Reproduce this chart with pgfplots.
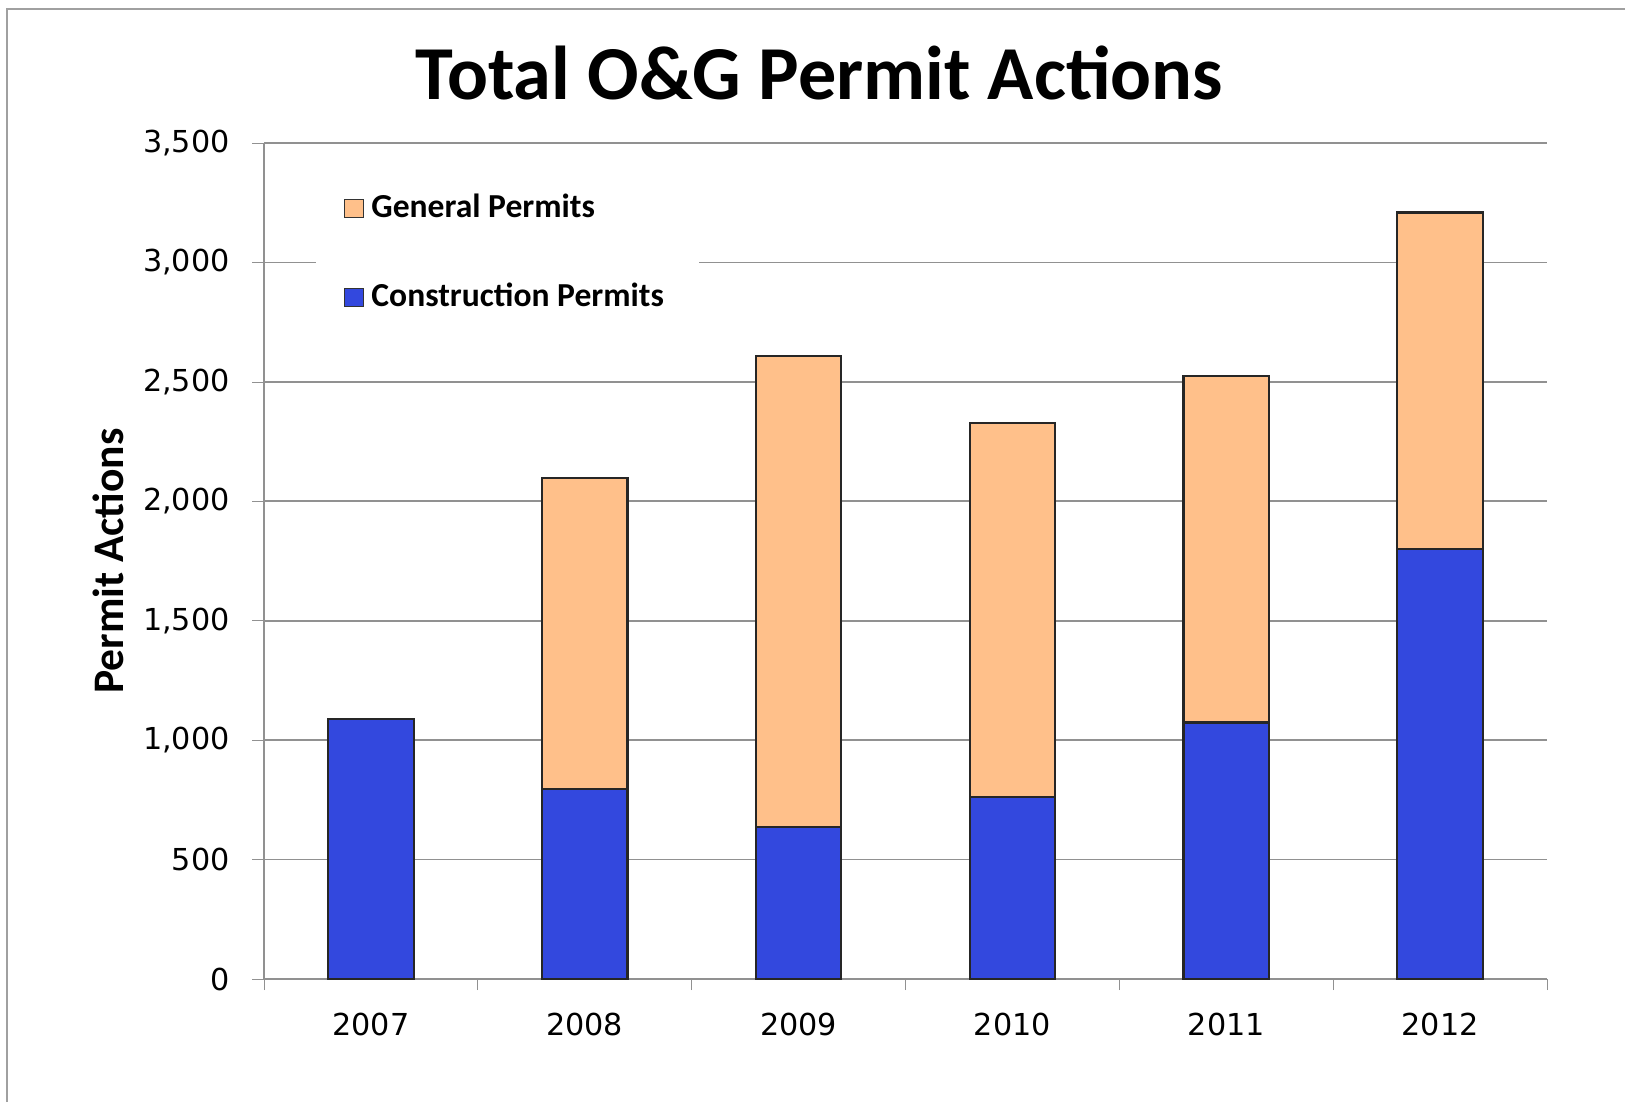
\documentclass[border=0pt]{standalone}
\usepackage{pgfplots}
\pgfplotsset{compat=1.18}
\usepackage{fontspec}
\setmainfont{Carlito}
\newfontfamily\tickfont{DejaVu Sans}
\definecolor{conblue}{RGB}{51,72,222}
\definecolor{genorange}{RGB}{255,192,138}
\definecolor{gridgray}{RGB}{145,145,145}
\definecolor{framegray}{RGB}{160,160,160}

\begin{document}
\begin{tikzpicture}
\begin{axis}[
  overlay,
  scale only axis, width=12.83cm, height=8.36cm,
  ybar stacked, bar width=0.4,
  xmin=-0.5, xmax=5.5, ymin=0, ymax=3500,
  xtick={0,...,5}, xticklabels={2007,2008,2009,2010,2011,2012},
  minor xtick={-0.5,0.5,...,5.5},
  major x tick style={draw=none},
  minor x tick style={gridgray},
  ytick={0,500,...,3500},
  ymajorgrids, grid style={gridgray, line width=0.5pt},
  tick align=outside, major tick length=0.12cm, minor tick length=0.11cm,
  axis x line*=bottom, axis y line*=left,
  axis line style={gridgray, line width=0.5pt},
  y tick style={gridgray},
  ticklabel style={font=\tickfont\fontsize{8.6}{10}\selectfont},
  /pgf/number format/.cd, 1000 sep={,}, assume math mode=true, /pgfplots/.cd,
  yticklabel style={xshift=-0.1cm},
  xticklabel style={yshift=-0.1cm},
  title={Total O\&G Permit Actions},
  title style={at={(0.433,1.059)}, anchor=center, font=\bfseries\fontsize{21.7}{26}\selectfont},
  ylabel={Permit Actions},
  ylabel style={at={(-0.121,0.5)}, anchor=center, font=\bfseries\fontsize{12.4}{14}\selectfont},
  legend style={at={(0.04,0.966)}, anchor=north west, draw=none, fill=white,
    font=\bfseries\fontsize{9.55}{11}\selectfont, row sep=0.46cm,
    inner xsep=0.28cm, inner ysep=0.15cm, cells={anchor=west}},
  reverse legend,
  legend image code/.code={\draw[#1, draw=black!80, line width=0.4pt] (0cm,-0.09cm) rectangle (0.19cm,0.09cm);},
]
\addplot[fill=conblue, draw=black!85, line width=0.6pt] coordinates {
  (0,1087) (1,796) (2,635) (3,761) (4,1074) (5,1800)
};
\addplot[fill=genorange, draw=black!85, line width=0.6pt] coordinates {
  (0,0) (1,1300) (2,1974) (3,1565) (4,1452) (5,1409)
};
\legend{Construction Permits, General Permits}
\coordinate (ll) at (rel axis cs:0,0);
\coordinate (ur) at (rel axis cs:1,1);
\end{axis}
\useasboundingbox ([xshift=-2.64cm,yshift=-1.23cm]ll) rectangle ([xshift=0.78cm,yshift=1.43cm]ur);
\draw[framegray, line width=0.6pt] ([xshift=-2.57cm,yshift=-1.23cm]ll) -- ([xshift=-2.57cm,yshift=1.34cm]ll |- ur) -- ([xshift=0.78cm,yshift=1.34cm]ur);
\end{tikzpicture}
\end{document}
